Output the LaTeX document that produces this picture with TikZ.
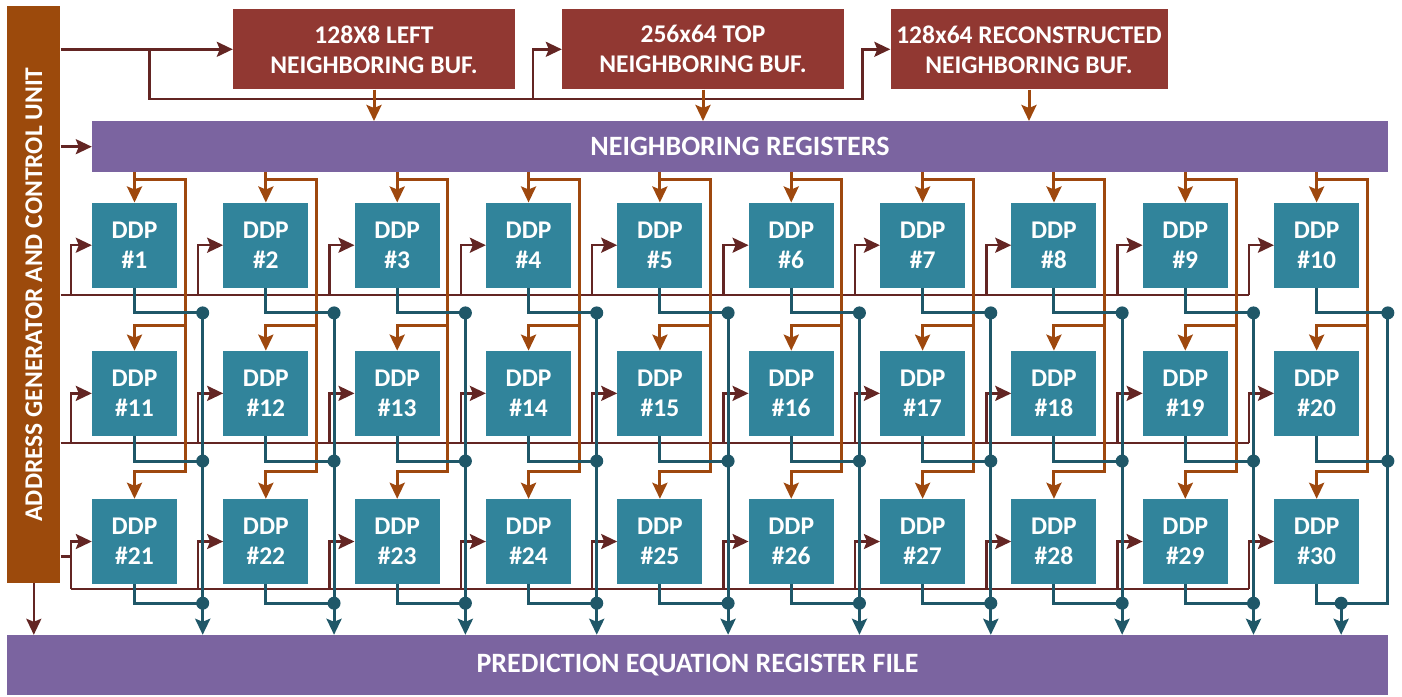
\documentclass[tikz,border=0pt]{standalone}
\usepackage{fontspec}
\setmainfont{Carlito}
\usepackage{tikz}
\usetikzlibrary{arrows.meta, calc}

\definecolor{ctrlbrown}{RGB}{156,74,12}
\definecolor{bufred}{RGB}{145,56,50}
\definecolor{regpurple}{RGB}{123,100,160}
\definecolor{ddpteal}{RGB}{49,132,155}
\definecolor{outteal}{RGB}{31,87,104}
\definecolor{feedorange}{RGB}{158,72,14}
\definecolor{ctrlwire}{RGB}{99,37,35}

\tikzset{
	boxfont/.style={text=white, font=\fontsize{25.5}{30}\selectfont\bfseries, align=center, inner sep=0pt},
	ddpbox/.style={boxfont, fill=ddpteal, minimum width=85pt, minimum height=85pt},
	bufbox/.style={boxfont, fill=bufred, minimum width=282pt, minimum height=80pt},
	regbar/.style={boxfont, fill=regpurple, font=\fontsize{28}{32}\selectfont\bfseries},
	ctrlbar/.style={boxfont, fill=ctrlbrown, rotate=90, minimum width=577pt, minimum height=53pt},
	ctrlw/.style={draw=ctrlwire, line width=2.5pt},
	feedw/.style={draw=feedorange, line width=3pt},
	outw/.style={draw=outteal, line width=3pt},
	arr/.style={-{Stealth[length=16pt, width=15pt, inset=3pt]}}
}

\begin{document}
\begin{tikzpicture}[x=1pt, y=-1pt]
	\useasboundingbox (0,0) rectangle (1402,696);
	% control unit, buffers and register bars
	\node[ctrlbar] (ctrl) at (33.8,294.5) {ADDRESS GENERATOR AND CONTROL UNIT};
	\node[bufbox] (lbuf) at (374,49.3) {128X8 LEFT\\NEIGHBORING BUF.};
	\node[bufbox] (tbuf) at (703,49.3) {256x64 TOP\\NEIGHBORING BUF.};
	\node[bufbox, minimum width=277pt] (rbuf) at (1029,49.3) {128x64 RECONSTRUCTED\\NEIGHBORING BUF.};
	\node[regbar, minimum width=1296pt, minimum height=51pt] (nr) at (740,146.7) {NEIGHBORING REGISTERS};
	\node[regbar, minimum width=1381pt, minimum height=60pt] (pf) at (697.5,665) {PREDICTION EQUATION REGISTER FILE};

	% DDP array
	\foreach \r in {1,2,3}
		\foreach \i in {1,...,10} {
			\pgfmathtruncatemacro\n{(\r-1)*10+\i}
			\node[ddpbox] (d\n) at ({134.5+(\i-1)*131.35},{245.2+(\r-1)*148.15}) {DDP\\\#\n};
		}

	% tap points
	\coordinate (bus1) at ($(d1.south)+(0,7)$);
	\coordinate (bus2) at ($(d11.south)+(0,7)$);
	\coordinate (bus3) at ($(d21.south)+(0,5)$);
	\coordinate (c3) at ($(d21.west)+(0,15)$);
	\coordinate (split) at ($(ctrl.south |- lbuf.west)+(89,0)$);
	\coordinate (low) at ($(lbuf.south)+(0,9.5)$);
	\coordinate (jt) at ($(tbuf.west |- low)+(-29,0)$);
	\coordinate (jr) at ($(rbuf.west |- low)+(-28,0)$);
	\foreach \n in {1,...,30} {
		\pgfmathtruncatemacro\c{mod(\n-1,10)}
		\ifnum\c=0
			\coordinate (in\n) at ($(d\n.west)+(-21,0)$);
		\else
			\coordinate (in\n) at ($(d\n.west)+(-25,0)$);
		\fi
		\ifnum\n>20
			\coordinate (o\n) at ($(d\n.south east)+(25.5,19)$);
		\else
			\coordinate (o\n) at ($(d\n.south east)+(25.5,25)$);
		\fi
	}
	\coordinate (o10) at ($(d10.south east)+(28.5,25)$);
	\coordinate (o20) at ($(d20.south east)+(28.5,25)$);
	\coordinate (o30) at ($(d30.south)+(24.5,19)$);

	% control wires
	\draw[ctrlw, arr] (ctrl.south |- lbuf.west) -- (lbuf.west);
	\draw[ctrlw, arr] (split) |- (jt) |- (tbuf.west);
	\draw[ctrlw, arr] (jt) -- (jr) |- (rbuf.west);
	\draw[ctrlw, arr] (ctrl.south |- nr.west) -- (nr.west);
	\draw[ctrlw, arr] (ctrl.west) -- (ctrl.west |- pf.north);
	\draw[ctrlw] (ctrl.south |- bus1) -- (in10 |- bus1);
	\draw[ctrlw] (ctrl.south |- bus2) -- (in20 |- bus2);
	\draw[ctrlw] (ctrl.south |- c3) -- (in21 |- c3);
	\draw[ctrlw] (in21 |- bus3) -- (in30 |- bus3);
	\foreach \n in {1,...,30} {
		\pgfmathtruncatemacro\r{int((\n-1)/10)+1}
		\draw[ctrlw, arr] (in\n |- bus\r) -- (in\n) -- (d\n.west);
	}

	% neighbouring data feeds
	\draw[feedw, arr] (lbuf.south) -- (lbuf.south |- nr.north);
	\draw[feedw, arr] (tbuf.south) -- (tbuf.south |- nr.north);
	\draw[feedw, arr] (rbuf.south) -- (rbuf.south |- nr.north);
	\foreach \i in {1,...,10} {
		\pgfmathtruncatemacro\j{\i+10}
		\pgfmathtruncatemacro\k{\i+20}
		\draw[feedw, arr] (d\i |- nr.south) -- (d\i.north);
		\draw[feedw, arr] ($(d\i.north)+(0,-23)$) -| ($(d\k.north east)+(8,-27)$) -| (d\k.north);
		\draw[feedw, arr] ($(d\j.north east)+(8,-25)$) -| (d\j.north);
	}

	% outputs to the register file
	\foreach \n in {1,...,30}
		\draw[outw] (d\n.south) |- (o\n);
	\foreach \i in {1,...,9}
		\draw[outw, arr] (o\i) -- (o\i |- pf.north);
	\draw[outw] (o10) |- (o30);
	\draw[outw, arr] (o30) -- (o30 |- pf.north);
	\foreach \n in {1,...,30}
		\fill[outteal] (o\n) circle (6.5pt);
\end{tikzpicture}
\end{document}
